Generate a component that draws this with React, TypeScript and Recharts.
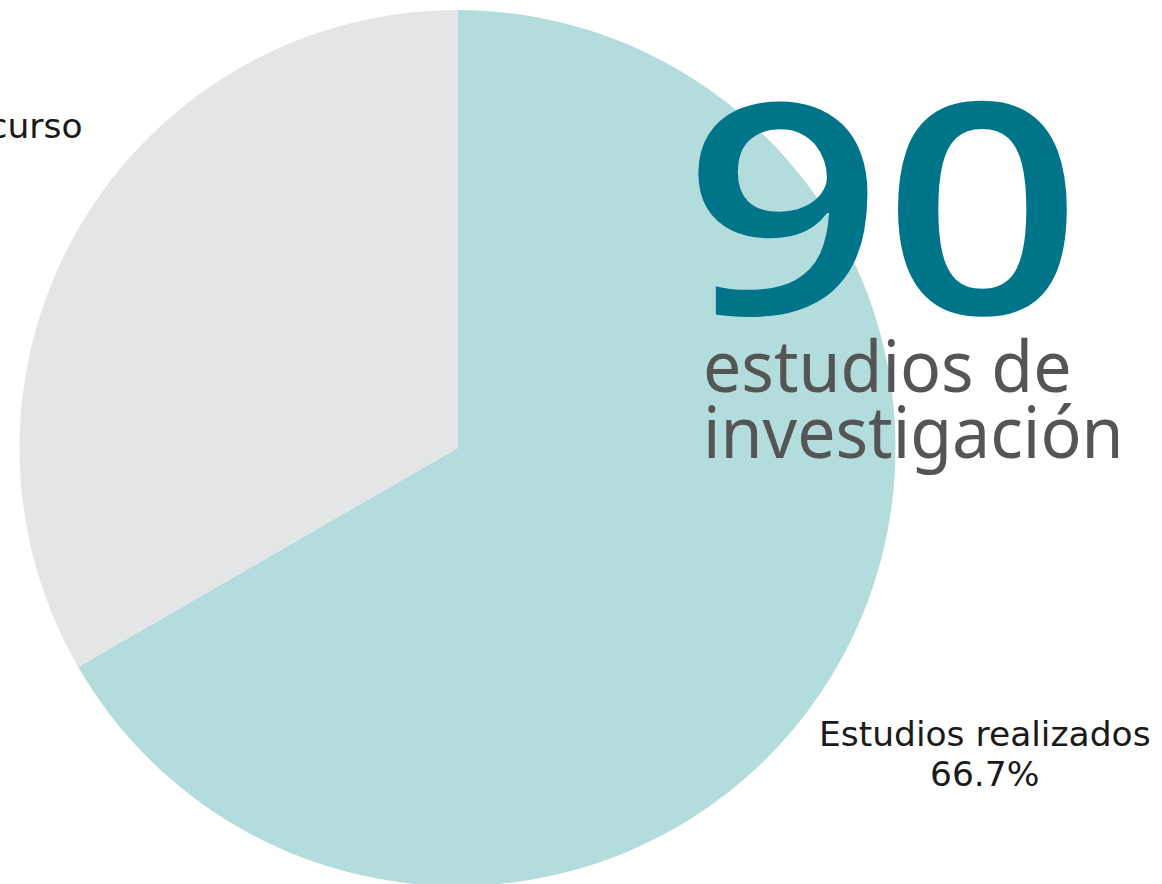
import React from "react";
import { PieChart, Pie, Cell } from "recharts";

const categories = ["Estudios realizados", "Estudios en curso"];
const values = [60, 30];
const colors = ["#b3dcdd", "#e4e5e7"];
const totalLabel = "90";
const subtitleLines = ["estudios de", "investigación"];

const data = categories.map((name, i) => ({ name, value: values[i] }));
const total = values.reduce((a, b) => a + b, 0);

const RADIAN = Math.PI / 180;

const renderLabel = (props: any) => {
  const { cx, cy, midAngle, outerRadius, name, value } = props;
  const r = outerRadius * 1.39;
  const x = cx + r * Math.cos(-midAngle * RADIAN);
  const y = cy + r * Math.sin(-midAngle * RADIAN);
  const pct = ((value / total) * 100).toFixed(1) + "%";
  return (
    <text
      x={0}
      y={0}
      transform={`translate(${x},${y}) scale(1.045,1)`}
      textAnchor="middle"
      fill="#1a1a1a"
      fontFamily="'DejaVu Sans', sans-serif"
      fontSize={33}
    >
      <tspan x={0} dy={-6}>{name}</tspan>
      <tspan x={0} dy={40}>{pct}</tspan>
    </text>
  );
};

export default function App() {
  return (
    <div style={{ position: "fixed", left: 0, top: 0, width: 1162, height: 884, overflow: "hidden", background: "#fff" }}>
      <PieChart width={1162} height={884} margin={{ top: 0, right: 0, bottom: 0, left: 0 }}>
        <Pie
          data={data}
          dataKey="value"
          nameKey="name"
          cx={457.5}
          cy={448}
          outerRadius={438}
          startAngle={90}
          endAngle={-270}
          stroke="none"
          label={renderLabel}
          labelLine={false}
          isAnimationActive={false}
        >
          {data.map((d, i) => (
            <Cell key={d.name} fill={colors[i]} />
          ))}
        </Pie>
      </PieChart>
      <svg width={1162} height={884} style={{ position: "absolute", left: 0, top: 0, pointerEvents: "none" }}>
        <text
          x={684}
          y={314}
          fill="#00758a"
          fontFamily="'Open Sans', sans-serif"
          fontWeight={600}
          fontSize={294}
          textLength={398}
          lengthAdjust="spacingAndGlyphs"
        >
          {totalLabel}
        </text>
        {subtitleLines.map((line, i) => (
          <text
            key={line}
            x={0}
            y={0}
            transform={`translate(703,${392 + i * 66}) scale(0.945,1)`}
            fill="#555555"
            fontFamily="'Noto Sans', sans-serif"
            fontSize={72}
          >
            {line}
          </text>
        ))}
      </svg>
    </div>
  );
}
